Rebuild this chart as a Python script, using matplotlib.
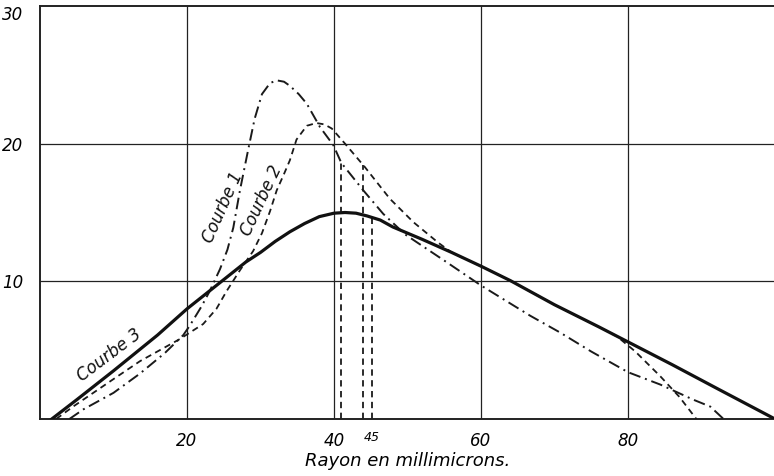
import matplotlib.pyplot as plt
import numpy as np

# --- data (x = rayon en millimicrons) ---
courbe1_x = [4.0, 5.9, 10.0, 13.6, 17.0, 19.5, 20.4, 22.0, 23.1, 24.5, 25.5, 26.3, 27.2, 28.3,
             29.2, 30.2, 31.3, 32.2, 33.2, 34.0, 35.2, 36.3, 38.1, 39.9, 41.0, 44.0, 46.7,
             49.7, 55.3, 60.0, 66.7, 70.7, 75.0, 80.0, 84.4, 88.9, 91.2, 93.0]
courbe1_y = [0.0, 0.7, 1.9, 3.3, 4.8, 6.1, 6.8, 8.2, 9.3, 10.9, 12.3, 13.9, 16.6, 19.5,
             21.8, 23.6, 24.4, 24.6, 24.5, 24.2, 23.6, 22.9, 21.2, 19.9, 18.6, 16.6, 14.9,
             13.4, 11.4, 9.7, 7.5, 6.3, 4.9, 3.4, 2.5, 1.4, 0.9, 0.0]

courbe2_x = [2.2, 4.5, 10.0, 13.6, 19.0, 22.2, 24.0, 25.4, 27.2, 29.0, 30.2, 31.3, 32.2, 33.2,
             34.0, 34.9, 36.3, 37.6, 38.7, 39.7, 41.5, 44.2, 47.6, 50.8, 54.2, 56.0, 60.0,
             64.0, 70.0, 76.0, 78.5, 81.0, 84.4, 87.0, 89.3]
courbe2_y = [0.0, 0.9, 2.9, 4.2, 5.8, 6.9, 8.0, 9.3, 10.8, 12.2, 13.5, 15.1, 16.6, 17.8,
             18.8, 20.3, 21.3, 21.5, 21.4, 21.1, 20.0, 18.3, 16.0, 14.3, 12.8, 12.1, 11.1,
             10.05, 8.3, 6.7, 6.0, 4.9, 3.1, 1.6, 0.0]

courbe3_x = [1.6, 5.0, 10.0, 16.0, 20.0, 24.0, 28.0, 30.0, 32.0, 34.0, 36.0, 38.0, 40.0, 41.5,
             43.0, 44.5, 46.3, 48.0, 52.0, 56.0, 60.0, 64.0, 70.0, 76.0, 80.0, 86.0, 92.0,
             100.0]
courbe3_y = [0.0, 1.4, 3.5, 6.1, 8.0, 9.7, 11.4, 12.1, 12.9, 13.6, 14.2, 14.7, 14.95, 15.0,
             14.95, 14.75, 14.45, 13.95, 13.05, 12.1, 11.1, 10.05, 8.3, 6.7, 5.6, 3.95, 2.25,
             0.0]

# verticales en pointillé : abscisse et courbe sur laquelle elles s'arrêtent
verticales_x = [41.0, 44.0, 45.2]
verticales_courbe = [1, 2, 3]

xticks = [20, 40, 60, 80]
yticks = [10, 20, 30]

fig = plt.figure(figsize=(7.74, 4.76), dpi=100)
ax = fig.add_axes([40 / 774, 57 / 476, 735 / 774, 413 / 476])

ax.set_xlim(0, 100)
ax.set_ylim(0, 30)

# quadrillage
for gx in xticks:
    ax.axvline(gx, color='#222222', lw=0.9, zorder=1)
for gy in [10, 20]:
    ax.axhline(gy, color='#222222', lw=0.9, zorder=1)

for side in ['left', 'bottom', 'top']:
    ax.spines[side].set_linewidth(1.4)
    ax.spines[side].set_color('#222222')
ax.spines['right'].set_visible(False)

# courbes
ax.plot(courbe1_x, courbe1_y, color='#1a1a1a', lw=1.4, linestyle=(0, (6, 2.5, 1, 2.5)), zorder=3)
ax.plot(courbe2_x, courbe2_y, color='#1a1a1a', lw=1.3, linestyle=(0, (3.5, 2.5)), zorder=3)
ax.plot(courbe3_x, courbe3_y, color='#111111', lw=2.3, zorder=4)

curves = {1: (courbe1_x, courbe1_y), 2: (courbe2_x, courbe2_y), 3: (courbe3_x, courbe3_y)}
for vx, c in zip(verticales_x, verticales_courbe):
    cx, cy = curves[c]
    top = np.interp(vx, cx, cy)
    ax.vlines(vx, 0, top, color='#1a1a1a', lw=1.3, linestyles=[(0, (3.5, 2.5))], zorder=2)

# étiquettes des courbes
font = dict(family='DejaVu Sans', style='italic', fontsize=12, color='#111111')
ax.text(24.9, 15.4, 'Courbe 1', rotation=66, ha='center', va='center',
        rotation_mode='anchor', **font)
ax.text(30.1, 15.9, 'Courbe 2', rotation=65, ha='center', va='center',
        rotation_mode='anchor', **font)
ax.text(9.4, 4.6, 'Courbe 3', rotation=37, ha='center', va='center',
        rotation_mode='anchor', **font)

# axes
ax.set_xticks(xticks)
ax.set_yticks(yticks)
ax.set_xticklabels([str(t) for t in xticks], fontstyle='italic', fontsize=12)
ax.set_yticklabels([str(t) for t in yticks], fontstyle='italic', fontsize=12)
ax.tick_params(axis='x', length=0, pad=9)
ax.tick_params(axis='y', length=0, pad=12)
ax.get_yticklabels()[-1].set_verticalalignment('top')
ax.annotate('45', xy=(45.2, 0), xycoords=('data', 'axes fraction'),
            xytext=(0, -13), textcoords='offset points', ha='center', va='center',
            fontstyle='italic', fontsize=9)

ax.set_xlabel('Rayon en millimicrons.', fontstyle='italic', fontsize=13, labelpad=2)

fig.savefig('out.png', dpi=100)
